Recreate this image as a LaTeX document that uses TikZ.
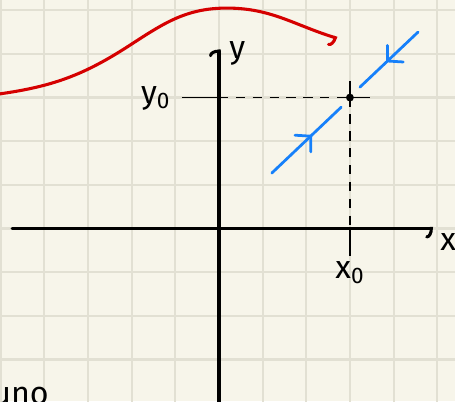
\documentclass[tikz,border=0pt]{standalone}
\usepackage{fontspec}
\setmainfont{Fira Sans}
\usetikzlibrary{arrows.meta,decorations.markings}
\definecolor{paper}{RGB}{247,245,234}
\definecolor{gridline}{RGB}{226,224,211}
\definecolor{flowred}{RGB}{213,0,0}
\definecolor{orbitblue}{RGB}{22,128,250}

\begin{document}
\begin{tikzpicture}[every node/.style={font=\fontsize{21}{23}\selectfont},
    gridl/.style={gridline, line width=1.4pt},
    axis/.style={line width=2pt, line cap=round},
    hook/.style={-{Arc Barb[#1,length=4pt,width=13pt,line cap=round]}},
    guide/.style={line width=1pt, dash pattern=on 6pt off 5pt},
    flow/.style={flowred, line width=2pt, line cap=round},
    orbit/.style={orbitblue, line width=1.8pt, line cap=round, postaction={decorate},
      decoration={markings, mark=at position #1 with {\arrow{Straight Barb[length=7pt,width=15pt,line cap=round]}}}}]
      \useasboundingbox (-5.017,-3.952) rectangle (5.407,5.235);
      \clip (-5.017,-3.952) rectangle (5.407,5.235);
      \fill[paper] (-5.017,-3.952) rectangle (5.407,5.235);

      % squared paper
      \foreach \gx in {-5,...,5} {
        \draw[gridl] (\gx,-4) -- (\gx,5.3);
      }
      \foreach \gy in {-3,...,5} {
        \draw[gridl] (-5.1,\gy) -- (5.5,\gy);
      }

      % axes
      \coordinate (O) at (0,0);
      \coordinate (xl) at (-4.74,0);
      \coordinate (xr) at (4.9,0);
      \coordinate (yb) at (0,-4.1);
      \coordinate (yt) at (0,4.1);
      \draw[axis, hook=right] (xl) -- (xr);
      \draw[axis, hook=left] (yb) -- (yt);
      \node (xlab) at (5.25,-0.3) {x};
      \node (ylab) at (0.42,4.0) {y};

      % equilibrium (x0, y0)
      \coordinate (P) at (3,3);
      \coordinate (ytick) at (-0.85,3);
      \coordinate (yax) at (0,3);
      \coordinate (xax) at (3,0);
      \coordinate (xtick) at (3,-0.63);
      \draw[line width=1.2pt] (ytick) -- (yax);
      \draw[guide] (yax) -- (P);
      \draw[guide] (P) -- (xax);
      \draw[line width=1.2pt] (xax) -- (xtick);
      \draw[line width=1.2pt] (P) -- ++(0,0.38);
      \draw[line width=1.2pt] (P) -- ++(0.46,0);
      \fill (P) circle (0.09);
      \node (ylab0) at (-1.45,2.98) {y\textsubscript{0}};
      \node (xlab0) at (3.0,-1.02) {x\textsubscript{0}};

      % blue orbits running into the point
      \coordinate (b1) at (1.21,1.27);
      \coordinate (b2) at (2.80,2.78);
      \coordinate (b3) at (4.56,4.50);
      \coordinate (b4) at (3.23,3.24);
      \draw[orbit=0.58] (b1) -- (b2);
      \draw[orbit=0.55] (b3) -- (b4);

      % red flow
      \coordinate (r0) at (-5.05,3.08);
      \coordinate (r1) at (-2.04,4.2);
      \coordinate (r2) at (0.18,5.05);
      \coordinate (r3) at (2.7,4.36);
      \draw[flow, hook=right] (r0) to[out=8,in=213] (r1) to[out=33,in=180] (r2) to[out=0,in=163] (r3);

      \node[anchor=north west, inner sep=0] (cut) at (-5.2,-3.62) {uno};
    \end{tikzpicture}
\end{document}
